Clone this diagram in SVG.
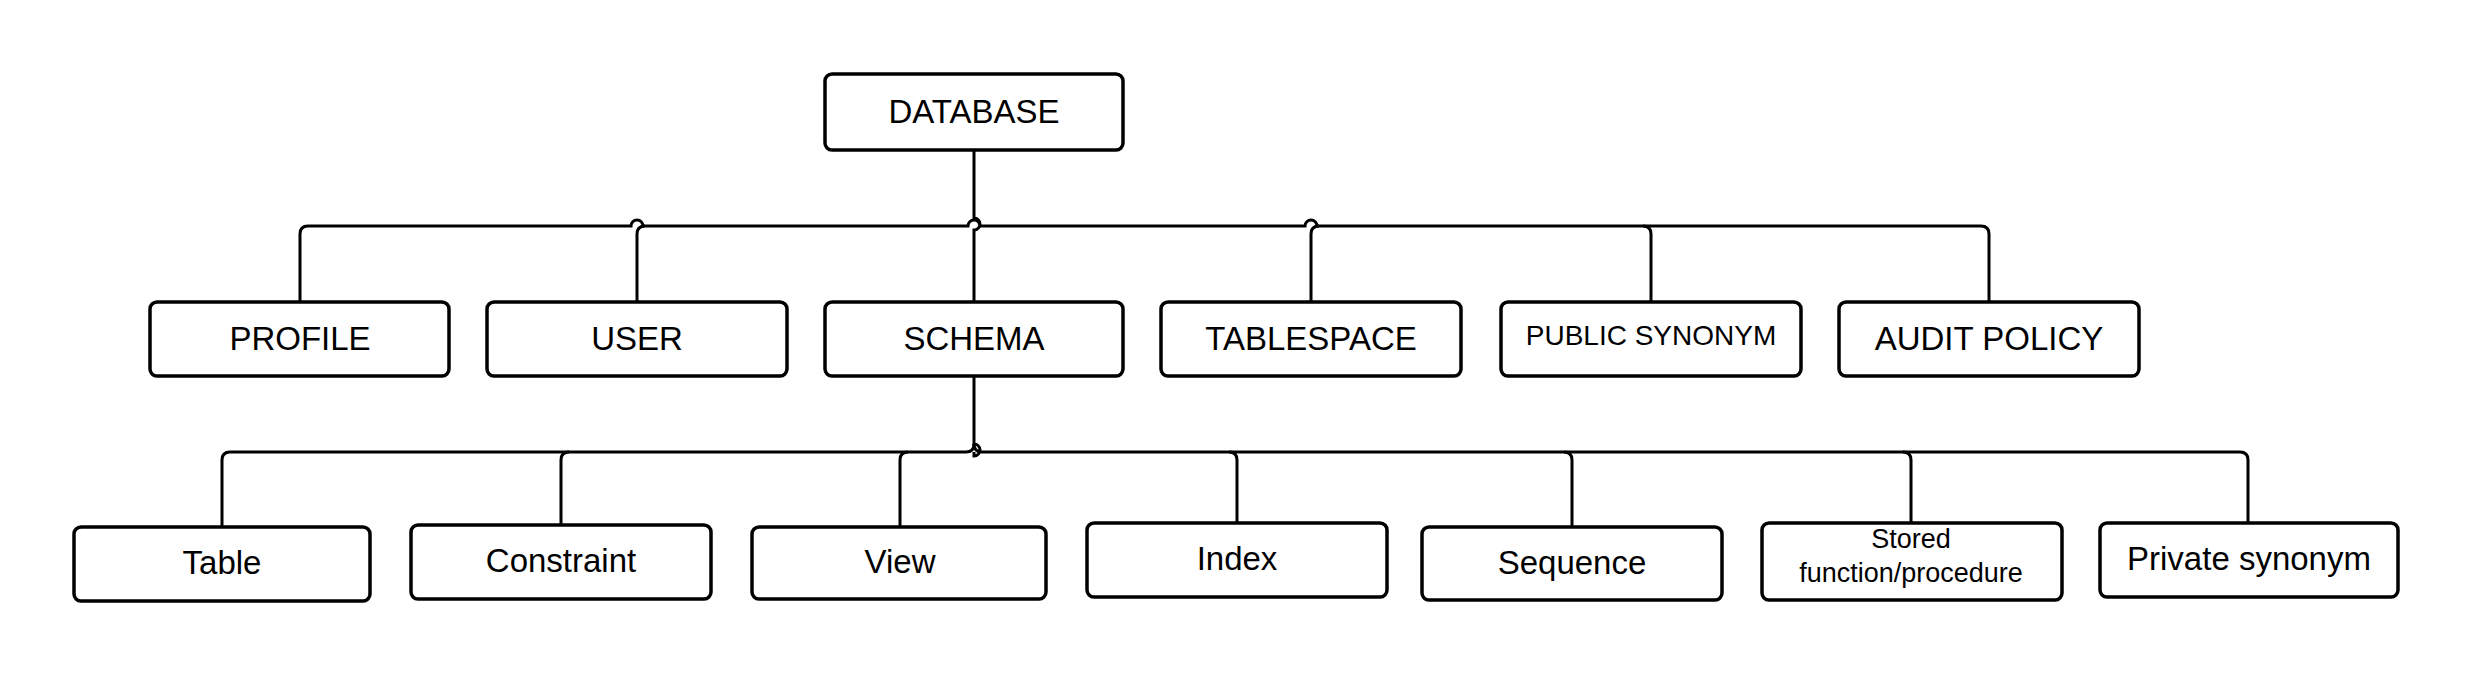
<svg xmlns="http://www.w3.org/2000/svg" width="2477" height="677" viewBox="0 0 2477 677">
<style>
.n rect{fill:#fff;stroke:#000;stroke-width:3.5}
.n text{font-family:"Liberation Sans",Arial,sans-serif;font-size:33px;text-anchor:middle;fill:#000}
.c path{fill:none;stroke:#000;stroke-width:3}
</style>
<rect width="2477" height="677" fill="#fff"/>
<g class="c">
<path d="M974 150 V218 a6 6 0 0 1 0 12 V302"/>
<path d="M300 302 V234 q0-8 8-8 H631 a6 6 0 0 1 12 0 H968 a6 6 0 0 1 12 0 H1305 a6 6 0 0 1 12 0 H1981 q8 0 8 8 V302"/>
<path d="M637 302 V234 q0-8 8-8"/>
<path d="M1311 302 V234 q0-8 8-8"/>
<path d="M1651 302 V234 q0-8-8-8"/>
<path d="M974 376 V444 a6 6 0 0 1 0 12 V452"/>
<path d="M222 526 V460 q0-8 8-8 H966 q8 0 8-8"/>
<path d="M561 526 V460 q0-8 8-8"/>
<path d="M900 526 V460 q0-8 8-8"/>
<path d="M974 444 q0 8 8 8 H2240 q8 0 8 8 V526"/>
<path d="M1237 526 V460 q0-8-8-8"/>
<path d="M1572 526 V460 q0-8-8-8"/>
<path d="M1911 526 V460 q0-8-8-8"/>
</g>
<g id="database" class="n"><rect x="825" y="74" width="298" height="76" rx="7"/><text x="974" y="123">DATABASE</text></g>
<g id="profile" class="n"><rect x="150" y="302" width="299" height="74" rx="7"/><text x="300" y="350">PROFILE</text></g>
<g id="user" class="n"><rect x="487" y="302" width="300" height="74" rx="7"/><text x="637" y="350">USER</text></g>
<g id="schema" class="n"><rect x="825" y="302" width="298" height="74" rx="7"/><text x="974" y="350">SCHEMA</text></g>
<g id="tablespace" class="n"><rect x="1161" y="302" width="300" height="74" rx="7"/><text x="1311" y="350">TABLESPACE</text></g>
<g id="public-synonym" class="n"><rect x="1501" y="302" width="300" height="74" rx="7"/><text x="1651" y="345" style="font-size:28px">PUBLIC SYNONYM</text></g>
<g id="audit-policy" class="n"><rect x="1839" y="302" width="300" height="74" rx="7"/><text x="1989" y="350">AUDIT POLICY</text></g>
<g id="table" class="n"><rect x="74" y="527" width="296" height="74" rx="7"/><text x="222" y="574">Table</text></g>
<g id="constraint" class="n"><rect x="411" y="525" width="300" height="74" rx="7"/><text x="561" y="572">Constraint</text></g>
<g id="view" class="n"><rect x="752" y="527" width="294" height="72" rx="7"/><text x="900" y="573">View</text></g>
<g id="index" class="n"><rect x="1087" y="523" width="300" height="74" rx="7"/><text x="1237" y="570">Index</text></g>
<g id="sequence" class="n"><rect x="1422" y="527" width="300" height="73" rx="7"/><text x="1572" y="574">Sequence</text></g>
<g id="stored" class="n"><rect x="1762" y="523" width="300" height="77" rx="7"/><text x="1911" y="548" style="font-size:27px">Stored</text><text x="1911" y="582" style="font-size:27px">function/procedure</text></g>
<g id="private-synonym" class="n"><rect x="2100" y="523" width="298" height="74" rx="7"/><text x="2249" y="570">Private synonym</text></g>
</svg>
